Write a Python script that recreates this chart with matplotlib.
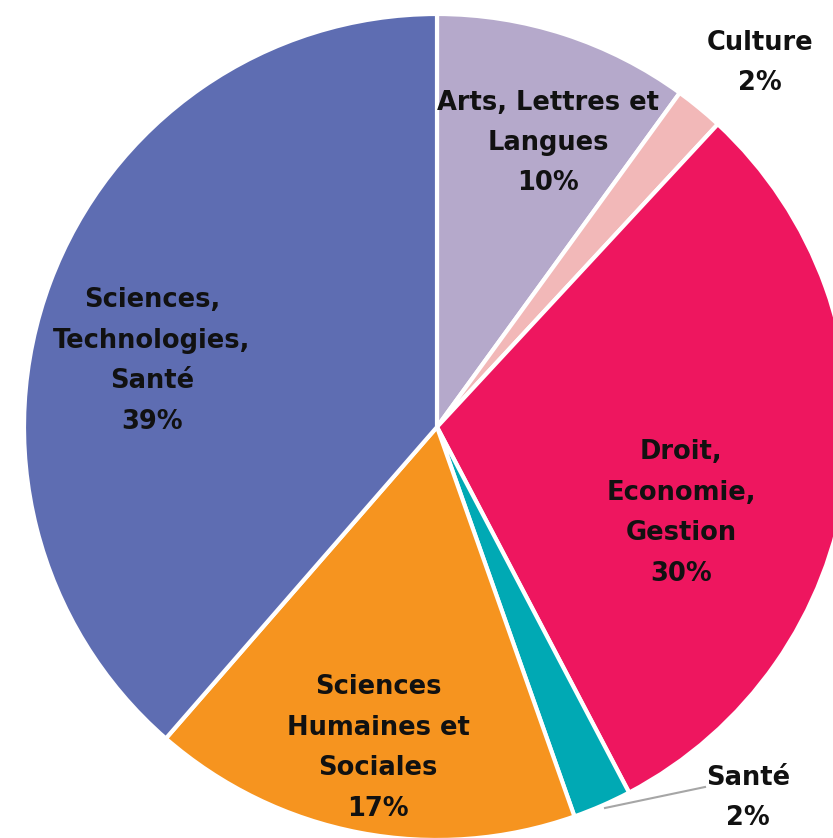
import matplotlib.pyplot as plt

# Répartition par domaine
domaines = ['Arts, Lettres et\nLangues', 'Culture', 'Droit,\nEconomie,\nGestion',
            'Santé', 'Sciences\nHumaines et\nSociales', 'Sciences,\nTechnologies,\nSanté']
valeurs = [10.0, 1.9, 30.4, 2.3, 16.8, 38.6]
pourcentages = ['10%', '2%', '30%', '2%', '17%', '39%']
couleurs = ['#B5A9CB', '#F2B8B8', '#EE165F', '#00A9B4', '#F6941F', '#5E6DB2']

W, H = 833, 838
cx, cy, R = 437, 427, 413


def to_data(px, py):
    return (px - cx) / R, (cy - py) / R


fig = plt.figure(figsize=(W / 100, H / 100), dpi=100)
ax = fig.add_axes([0, 0, 1, 1])

ax.pie(valeurs, colors=couleurs, startangle=90, counterclock=False, radius=1,
       wedgeprops=dict(edgecolor='white', linewidth=3))

# la fonction pie impose ses propres limites : on les remet ensuite
ax.set_xlim(-cx / R, (W - cx) / R)
ax.set_ylim(-(H - cy) / R, cy / R)
ax.set_aspect('equal')
ax.axis('off')

# Positions des étiquettes en pixels
pos_labels = [(548, 143), (760, 63), (681, 513), (748, 798), (378, 748), (152, 361)]
for nom, pct, (px, py) in zip(domaines, pourcentages, pos_labels):
    x, y = to_data(px, py)
    ax.text(x, y, nom + '\n' + pct, ha='center', va='center', fontsize=18.5,
            fontweight='bold', color='#111111', linespacing=1.72,
            family='DejaVu Sans')

# Ligne de rappel pour Santé
x0, y0 = to_data(605, 808)
x1, y1 = to_data(705, 787)
ax.plot([x0, x1], [y0, y1], color='#A6A6A6', linewidth=1.5)

fig.savefig('out.png', dpi=100)
